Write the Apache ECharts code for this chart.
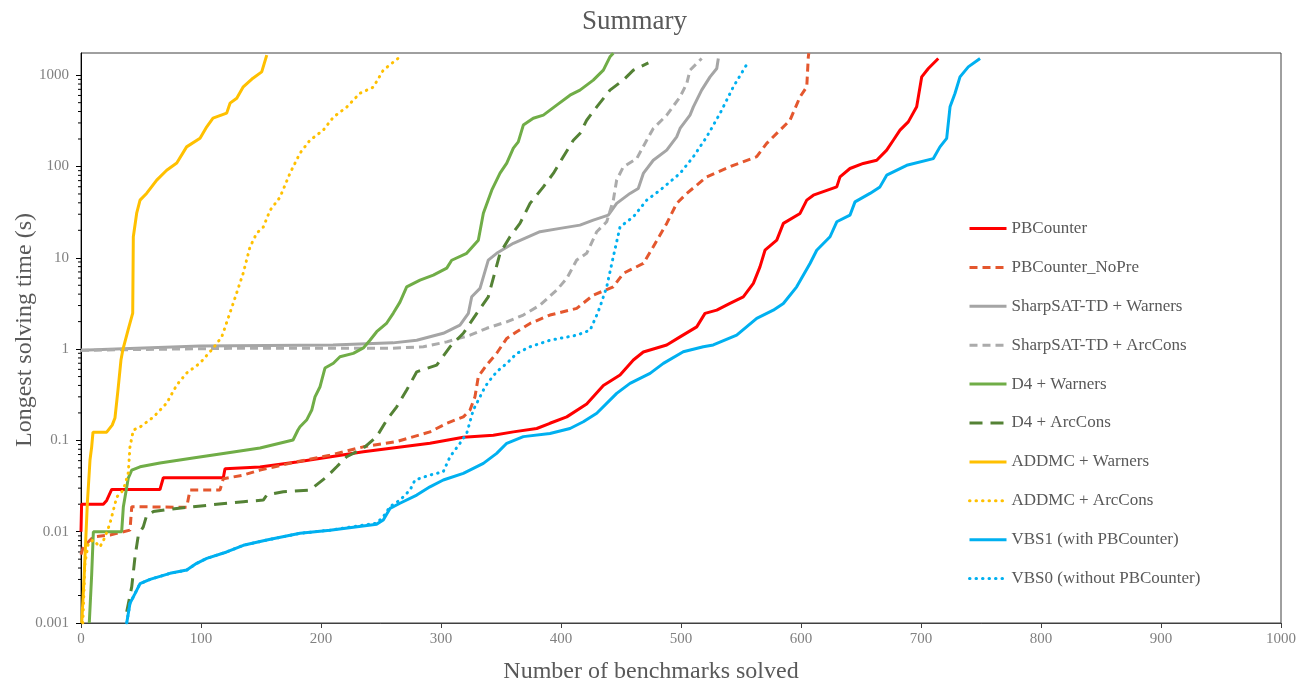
<!doctype html>
<html>
<head>
<meta charset="utf-8">
<title>Summary</title>
<script src="https://cdn.jsdelivr.net/npm/echarts@6/dist/echarts.min.js"></script>
<style>
  html, body { margin: 0; padding: 0; background: #fff; }
  #main { width: 1297px; height: 683px; }
</style>
</head>
<body>
<div id="main"></div>
<script>
// [solved count, longest time (s)]
var pbcounter = [[0,0.01],[0.5,0.02],[18.6,0.02],[21.4,0.022],[25.6,0.029],[65.8,0.029],[68.6,0.039],[118.6,0.039],[120,0.049],[149.2,0.051],[179.8,0.058],[235.3,0.075],[290.8,0.093],[318.6,0.108],[343.6,0.114],[360.3,0.124],[379.8,0.135],[390.8,0.154],[404.8,0.181],[421.4,0.25],[435.3,0.40],[449.2,0.52],[460.3,0.76],[468.6,0.93],[488.1,1.11],[499.2,1.36],[513.1,1.75],[520,2.46],[529.8,2.67],[540.8,3.17],[551.9,3.74],[560.3,5.24],[565.8,7.96],[570,12.1],[579.8,15.6],[585.3,23.8],[599.2,30.6],[604.8,42.8],[610.3,48.5],[629.8,59.8],[632.5,77],[640.8,95],[651.9,108],[663.1,117],[671.4,151],[676.9,194],[682.5,250],[689.4,308],[696.4,450],[700.6,959],[706.1,1185],[714.4,1524]];
var pbcounterNoPre = [[0,0.0056],[1.9,0.0068],[10.3,0.0088],[24.2,0.0092],[40.8,0.0104],[42.3,0.0188],[88.1,0.0185],[90.8,0.0286],[115.8,0.0286],[118.6,0.038],[135.3,0.0417],[149.2,0.0473],[179.8,0.0583],[207.5,0.069],[235.3,0.085],[263.1,0.097],[290.8,0.124],[304.8,0.154],[318.6,0.181],[324.2,0.215],[328.3,0.30],[331.1,0.50],[338.1,0.67],[346.4,0.90],[354.8,1.31],[363.1,1.55],[374.2,1.91],[390.8,2.36],[413.1,2.79],[426.9,3.90],[443.6,4.81],[451.9,6.75],[468.6,8.67],[476.9,13.2],[488.1,23.8],[496.4,39.4],[504.8,50.7],[521.4,77],[543.6,103],[563.1,128],[571.4,179],[582.5,250],[590.8,321],[599.2,579],[604.8,745],[606.1,1588],[606.5,1740]];
var sharpWarners = [[0,0.97],[99.2,1.08],[210,1.11],[260,1.17],[279.8,1.25],[301.9,1.49],[315.8,1.83],[322.8,2.46],[325.6,3.74],[332.5,4.62],[339.4,9.44],[346.4,11.2],[360.3,14.4],[382.5,19.3],[399.2,21],[415.8,22.8],[426.9,25.9],[439.4,29.3],[446.4,39.4],[457.5,50.7],[464.4,57.5],[468.6,84],[476.9,117],[488.1,151],[496.4,211],[499.2,261],[507.5,365],[510.3,450],[517.2,686],[524.2,959],[529.8,1185],[531.1,1524]];
var sharpArcCons = [[0,0.97],[124.2,1.02],[257.5,1.02],[285.3,1.06],[304.8,1.2],[324.2,1.42],[338.1,1.69],[354.8,1.99],[368.6,2.36],[382.5,3.03],[396.4,4.43],[404.8,5.94],[413.1,9.44],[421.4,11.2],[429.8,19.3],[438.1,24.8],[443.6,42.8],[446.4,71],[451.9,99],[463.1,122],[471.4,194],[476.9,261],[488.1,365],[499.2,579],[504.8,811],[507.5,1135],[517.2,1524]];
var d4Warners = [[6.9,0.001],[8.9,0.0034],[10.3,0.01],[33.9,0.01],[35.3,0.0188],[39.4,0.0387],[42.3,0.0473],[49.2,0.0514],[65.8,0.0565],[93.3,0.064],[121.4,0.0727],[149.2,0.0824],[176.7,0.101],[180.8,0.13],[182.5,0.141],[188,0.167],[192.3,0.215],[195,0.30],[199.2,0.387],[203.3,0.62],[210.3,0.70],[215.8,0.824],[226.9,0.897],[235.3,1.03],[240.8,1.25],[246.4,1.55],[254.8,1.93],[260.3,2.48],[265.8,3.27],[271.4,4.81],[282.5,5.7],[293.6,6.46],[304.8,7.71],[308.9,9.4],[321.4,11.2],[331.1,15.6],[335.3,30.8],[342.3,55],[349.2,84.6],[354.8,109],[360.3,159],[364.4,186],[368.6,284],[376.9,338],[385.3,365],[396.4,470],[407.5,604],[415.8,686],[426.9,883],[435.3,1135],[440.8,1588],[443.6,1740]];
var d4ArcCons = [[38.1,0.00133],[42.3,0.0025],[45,0.0053],[47.8,0.0092],[51.9,0.0113],[54.8,0.0152],[60.3,0.0166],[79.8,0.018],[107.5,0.0196],[135.3,0.0213],[151.9,0.0222],[154.8,0.0252],[168.6,0.0274],[190.8,0.0286],[204.8,0.04],[213.1,0.0514],[221.4,0.0662],[235.3,0.0818],[246.4,0.110],[254.8,0.167],[263.1,0.233],[271.4,0.356],[279.8,0.564],[296.4,0.668],[307.5,1.06],[318.6,1.49],[329.8,2.46],[339.4,3.74],[349.2,11.2],[357.5,17],[365.8,23.8],[374.2,39.4],[385.3,59.8],[393.6,84],[401.9,128],[410.3,194],[415.8,230],[421.4,321],[429.8,450],[440.8,686],[451.9,883],[460.3,1135],[472.8,1365]];
var addmcWarners = [[0.6,0.001],[2.5,0.003],[5.3,0.0206],[7.5,0.061],[8.9,0.085],[10,0.123],[21.4,0.123],[26,0.147],[28.3,0.176],[30.8,0.356],[33.3,0.758],[35,1.0],[39.2,1.61],[43.1,2.48],[43.6,17],[46.4,30.8],[49.2,42.8],[54.8,51],[63.1,71],[71.4,91],[79.8,109],[88,164],[99.2,204],[104.8,272],[110,338],[121.4,384],[124.2,494],[129.8,560],[135,739],[143.3,927],[150.6,1087],[154.8,1656]];
var addmcArcCons = [[1.5,0.001],[3.3,0.0045],[6.1,0.0075],[10.3,0.0081],[15.8,0.0068],[20,0.0087],[24.2,0.0124],[29.8,0.024],[35.3,0.0286],[39.4,0.044],[40.8,0.0845],[43.6,0.13],[49.2,0.14],[60.3,0.18],[71.4,0.256],[79.8,0.404],[88,0.546],[99.2,0.703],[110.3,1.03],[117.3,1.36],[126.9,3.19],[135.2,6.8],[140.8,13.1],[146.4,18.6],[151.9,21.7],[157.5,33],[165.8,46],[174.2,84.6],[182.5,140],[190.8,194],[201.9,250],[210.3,347],[221.4,447],[232.5,635],[243.6,739],[251.9,1135],[264.4,1535]];
var vbs1 = [[38.1,0.001],[40.8,0.00164],[45,0.0021],[49.2,0.0027],[57.5,0.003],[74.2,0.0035],[88.1,0.0038],[96.4,0.0045],[104.8,0.0051],[121.4,0.006],[135.3,0.0071],[154.8,0.0081],[182.5,0.0096],[207.5,0.0104],[246.4,0.0121],[251.9,0.0134],[257.5,0.018],[265.8,0.0205],[279.8,0.0252],[290.8,0.031],[301.9,0.0368],[318.6,0.0436],[335.3,0.056],[346.4,0.0721],[354.8,0.093],[368.6,0.110],[390.8,0.119],[407.5,0.135],[418.6,0.16],[429.8,0.198],[446.4,0.327],[457.5,0.421],[474.2,0.542],[485.3,0.698],[501.9,0.935],[518.6,1.06],[526.9,1.11],[546.4,1.42],[563.1,2.17],[576.9,2.67],[585.3,3.16],[596.4,4.81],[607.5,8.67],[613.1,12.1],[624.2,17],[629.8,24.8],[640.8,29.3],[645,41],[657.5,50.7],[665.8,59.8],[671.4,80.4],[688.1,103],[710.3,122],[715.8,164],[721.4,203],[724.2,450],[728.3,631],[732.5,959],[739.4,1233],[749.2,1524]];
var vbs0 = [[38.1,0.001],[40.8,0.00164],[45,0.0021],[49.2,0.0027],[57.5,0.003],[74.2,0.0035],[88.1,0.0038],[96.4,0.0045],[104.8,0.0051],[121.4,0.006],[135.3,0.0071],[154.8,0.0081],[182.5,0.0096],[207.5,0.0104],[246.4,0.0124],[251.9,0.0146],[257.5,0.0188],[265.8,0.0222],[274.2,0.0286],[278.3,0.0368],[290.8,0.0417],[301.9,0.0454],[307.5,0.0662],[315.8,0.093],[321.4,0.119],[326.9,0.215],[332.5,0.30],[336.7,0.387],[340.8,0.458],[346.4,0.564],[354.8,0.698],[363.1,0.897],[374.2,1.06],[390.8,1.25],[413.1,1.42],[424.2,1.61],[429.8,2.36],[432.5,2.9],[438.1,4.81],[443.6,10.3],[449.2,21.8],[460.3,28.1],[471.4,42.8],[482.5,55],[499.2,84],[510.3,128],[521.4,211],[532.5,381],[543.6,745],[556.1,1400]];

var seriesNames = ['PBCounter', 'PBCounter_NoPre', 'SharpSAT-TD + Warners', 'SharpSAT-TD + ArcCons',
  'D4 + Warners', 'D4 + ArcCons', 'ADDMC + Warners', 'ADDMC + ArcCons',
  'VBS1 (with PBCounter)', 'VBS0 (without PBCounter)'];
var seriesData = [pbcounter, pbcounterNoPre, sharpWarners, sharpArcCons, d4Warners, d4ArcCons,
  addmcWarners, addmcArcCons, vbs1, vbs0];
var yTicks = [0.001, 0.01, 0.1, 1, 10, 100, 1000];
// log minor ticks on the time axis
var yMinorTicks = [0.002,0.003,0.004,0.005,0.006,0.007,0.008,0.009,
  0.02,0.03,0.04,0.05,0.06,0.07,0.08,0.09,
  0.2,0.3,0.4,0.5,0.6,0.7,0.8,0.9,
  2,3,4,5,6,7,8,9,
  20,30,40,50,60,70,80,90,
  200,300,400,500,600,700,800,900];

var colors = ['#FF0000', '#E4572E', '#A5A5A5', '#ABABAB', '#70AD47', '#548235', '#FFC000', '#FFC000', '#00B0F0', '#00B0F0'];
var dashes = ['solid', [8, 5], 'solid', [8, 5], 'solid', [13, 8], 'solid', [0.5, 6], 'solid', [0.5, 6]];
var serif = 'Liberation Serif';

var myChart = echarts.init(document.getElementById('main'));

var series = seriesNames.map(function (name, i) {
    var dotted = dashes[i][0] === 0.5;
    return {
        name: name,
        type: 'line',
        data: seriesData[i],
        symbol: 'none',
        showSymbol: false,
        smooth: false,
        color: colors[i],
        lineStyle: { color: colors[i], width: 3, type: dashes[i], cap: dotted ? 'round' : 'butt' },
        emphasis: { disabled: true }
    };
});

// minor ticks drawn just left of the y axis line
series.push({
    type: 'custom',
    silent: true,
    clip: false,
    data: yMinorTicks.map(function (v) { return [0, v]; }),
    renderItem: function (params, api) {
        var p = api.coord([api.value(0), api.value(1)]);
        return {
            type: 'line',
            shape: { x1: p[0] - 3, y1: p[1], x2: p[0], y2: p[1] },
            style: { stroke: '#000', lineWidth: 1 }
        };
    }
});

var option = {
    animation: false,
    title: {
        text: 'Summary',
        left: 577,
        top: 3,
        textStyle: { fontFamily: serif, fontSize: 27, fontWeight: 'normal', color: '#595959' }
    },
    legend: {
        orient: 'vertical',
        left: 963,
        top: 215,
        itemWidth: 37,
        itemHeight: 14,
        itemGap: 21.9,
        itemStyle: { opacity: 0 },
        lineStyle: { width: 3 },
        textStyle: { fontFamily: serif, fontSize: 17, color: '#595959' },
        data: seriesNames
    },
    grid: {
        left: 81, right: 16, top: 53, bottom: 60,
        outerBoundsMode: 'none',
        containLabel: false,
        show: true, borderColor: '#404040', borderWidth: 1
    },
    xAxis: {
        type: 'value',
        min: 0, max: 1000, interval: 100,
        name: 'Number of benchmarks solved',
        nameLocation: 'middle',
        nameGap: 37,
        nameMoveOverlap: false,
        nameTextStyle: { fontFamily: serif, fontSize: 24, color: '#595959', padding: [0, 60, 0, 0] },
        axisLine: { show: true, lineStyle: { color: '#404040', width: 1 } },
        axisTick: { show: true, length: 5, lineStyle: { color: '#404040' } },
        axisLabel: {
            fontFamily: serif, fontSize: 15, color: '#808080', margin: 9,
            formatter: function (v) { return String(v); }
        },
        splitLine: { show: false }
    },
    yAxis: {
        type: 'log',
        logBase: 10,
        min: 0.001, max: 1750,
        name: 'Longest solving time (s)',
        nameLocation: 'middle',
        nameGap: 44,
        nameMoveOverlap: false,
        nameTextStyle: { fontFamily: serif, fontSize: 24, color: '#595959', padding: [0, 0, 0, 16] },
        axisLine: { show: true, lineStyle: { color: '#000', width: 1 } },
        axisTick: { show: true, length: 5, lineStyle: { color: '#000' } },
        axisLabel: {
            fontFamily: serif, fontSize: 15, color: '#808080', margin: 12,
            showMaxLabel: false,
            formatter: function (v) {
                for (var i = 0; i < yTicks.length; i++) {
                    if (Math.abs(v - yTicks[i]) < yTicks[i] * 1e-6) return String(yTicks[i]);
                }
                return '';
            }
        },
        splitLine: { show: false }
    },
    series: series
};

myChart.setOption(option);
</script>
</body>
</html>
